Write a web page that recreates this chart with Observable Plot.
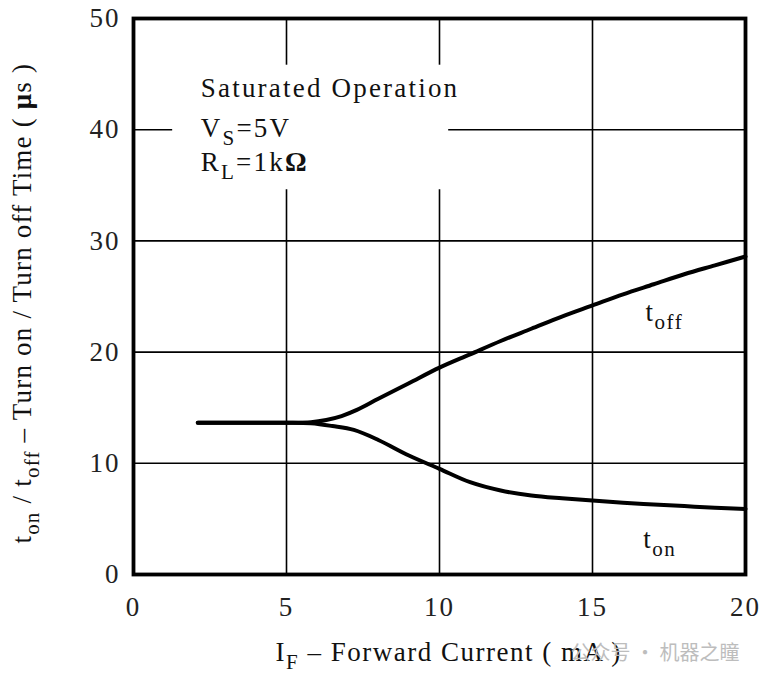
<!DOCTYPE html>
<html>
<head>
<meta charset="utf-8">
<script src="https://cdn.jsdelivr.net/npm/d3@7"></script>
<script src="https://cdn.jsdelivr.net/npm/@observablehq/plot@0.6"></script>
<style>
  html, body { margin: 0; padding: 0; background: #fff; }
  svg { display: block; }
</style>
</head>
<body>
<div id="chart"></div>
<script>
// ---- data ----
const xTicks = [0, 5, 10, 15, 20];
const yTicks = [0, 10, 20, 30, 40, 50];
const gridXValues = [5, 10, 15];
const gridYValues = [10, 20, 30, 40];

const offCurrent = [2.1, 3, 4, 5, 5.8, 6.3, 6.8, 7.3, 8, 9, 10, 11, 12, 13, 14, 15, 16, 17, 18, 19, 20];
const offTime    = [13.65, 13.65, 13.65, 13.65, 13.7, 13.9, 14.25, 14.8, 15.8, 17.2, 18.6, 19.8, 21.0, 22.1, 23.2, 24.2, 25.2, 26.1, 27.0, 27.8, 28.6];

const onCurrent = [2.1, 3, 4, 5, 5.8, 6.5, 7.2, 8, 9, 10, 11, 12, 13, 14, 15, 16, 17, 18, 19, 20];
const onTime    = [13.65, 13.65, 13.65, 13.65, 13.6, 13.35, 13.0, 12.1, 10.7, 9.5, 8.3, 7.55, 7.1, 6.85, 6.65, 6.45, 6.3, 6.15, 6.0, 5.9];

const seriesLabels = ["t<sub>off</sub>", "t<sub>on</sub>"];
const seriesLabelX = [17.35, 17.2];
const seriesLabelY = [23.6, 3.2];

const noteLines = ["Saturated Operation", "V<sub>S</sub>=5V", "R<sub>L</sub>=1k<b>Ω</b>"];
const noteX = [2.2, 2.2, 2.2];
const noteY = [43.7, 40.1, 37.1];
const noteBox = [{x1: 1.28, x2: 10.3, y1: 34.6, y2: 45.8}];

const yLabel = "t<sub>on</sub> / t<sub>off</sub> – Turn on / Turn off Time ( <b>μ</b>s )";
const xLabel = "I<sub>F</sub> – Forward Current ( mA )";
const watermark = "公众号 · 机器之瞳";

// ---- build ----
const strip = s => s.replace(/<\/?(sub|b)>/g, "");
const offData = offCurrent.map((x, i) => ({x, y: offTime[i]}));
const onData = onCurrent.map((x, i) => ({x, y: onTime[i]}));
const labData = seriesLabels.map((t, i) => ({t, x: seriesLabelX[i], y: seriesLabelY[i]}));
const noteData = noteLines.map((t, i) => ({t, x: noteX[i], y: noteY[i]}));

const serif = "'Liberation Serif', 'DejaVu Serif', serif";

const chart = Plot.plot({
  width: 765,
  height: 682,
  marginLeft: 133,
  marginRight: 20,
  marginTop: 18,
  marginBottom: 108,
  style: {fontFamily: serif, background: "#fff", color: "#111"},
  x: {domain: [0, 20]},
  y: {domain: [0, 50]},
  marks: [
    Plot.gridX(gridXValues, {stroke: "#000", strokeOpacity: 1, strokeWidth: 1.6}),
    Plot.gridY(gridYValues, {stroke: "#000", strokeOpacity: 1, strokeWidth: 1.6}),
    Plot.rect(noteBox, {x1: "x1", x2: "x2", y1: "y1", y2: "y2", fill: "#fff"}),
    Plot.line(offData, {x: "x", y: "y", stroke: "#000", strokeWidth: 4, curve: "catmull-rom"}),
    Plot.line(onData, {x: "x", y: "y", stroke: "#000", strokeWidth: 4, curve: "catmull-rom"}),
    Plot.frame({stroke: "#000", strokeWidth: 3.8}),
    Plot.axisY(yTicks, {tickSize: 0, tickPadding: 13, fontSize: 27, label: null, fill: "#222", className: "ticks"}),
    Plot.axisX(xTicks, {tickSize: 0, tickPadding: 22, fontSize: 27, label: null, fill: "#222", className: "ticks"}),
    Plot.text(noteData, {x: "x", y: "y", text: d => strip(d.t), textAnchor: "start", fontSize: 27, fill: "#111", className: "note"}),
    Plot.text(labData, {x: "x", y: "y", text: d => strip(d.t), textAnchor: "middle", fontSize: 27, fill: "#111", className: "slab"}),
    Plot.text([yLabel], {frameAnchor: "left", dx: -111, y: 24.4, text: d => strip(d), rotate: -90, textAnchor: "middle", fontSize: 27, fill: "#111", className: "ylab"}),
    Plot.text([xLabel], {frameAnchor: "bottom", dy: 86, x: 10.3, text: d => strip(d), textAnchor: "middle", fontSize: 27, fill: "#111", className: "xlab"}),
    Plot.text([watermark], {frameAnchor: "bottom-right", dx: -6, dy: 85, text: d => d, textAnchor: "end", fontSize: 20, fill: "#bdbdbd", fontFamily: "'Noto Sans CJK SC', sans-serif", className: "wm"})
  ]
});

// rich text: subscripts and bold
function rich(el, markup, fs) {
  const t = d3.select(el);
  t.text(null);
  const parts = markup.split(/(<sub>.*?<\/sub>|<b>.*?<\/b>)/).filter(p => p.length);
  let shift = 0;
  for (const p of parts) {
    let m;
    if ((m = p.match(/^<sub>(.*)<\/sub>$/))) {
      const target = fs * 0.3;
      t.append("tspan").attr("dy", target - shift).attr("font-size", fs * 0.78).text(m[1]);
      shift = target;
    } else if ((m = p.match(/^<b>(.*)<\/b>$/))) {
      t.append("tspan").attr("dy", -shift).attr("font-weight", "bold").text(m[1]);
      shift = 0;
    } else {
      t.append("tspan").attr("dy", -shift).text(p);
      shift = 0;
    }
  }
}
const svg = d3.select(chart);
svg.selectAll("g.note text").each(function(_, i) { rich(this, noteLines[i], 27); });
svg.selectAll("g.slab text").each(function(_, i) { rich(this, seriesLabels[i], 27); });
svg.selectAll("g.ylab text").each(function() { rich(this, yLabel, 27); });
svg.selectAll("g.xlab text").each(function() { rich(this, xLabel, 27); });
svg.selectAll("g.note text").style("letter-spacing", "2.2px");
svg.selectAll("g.slab text, g.xlab text").style("letter-spacing", "1.5px");
svg.selectAll("g.ylab text").style("letter-spacing", "1.2px");
svg.selectAll("g.ticks text").style("letter-spacing", "2px");

document.getElementById("chart").appendChild(chart);
</script>
</body>
</html>
